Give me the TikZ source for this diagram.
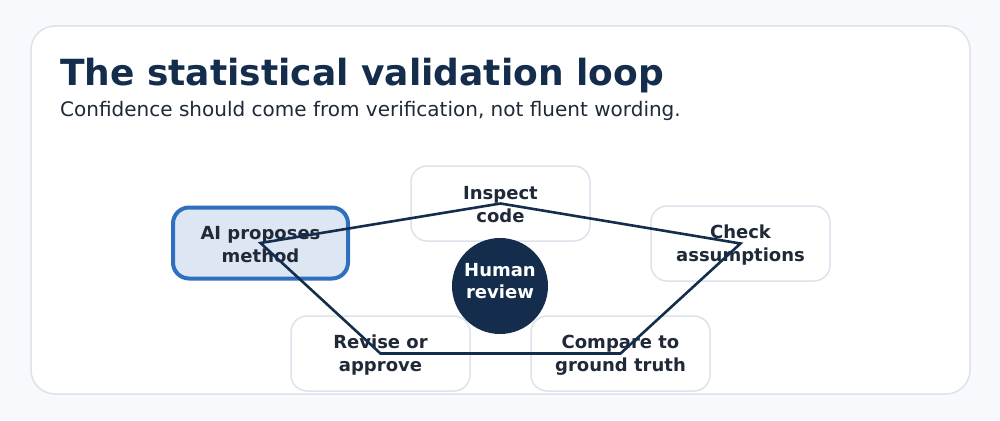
\documentclass[tikz,border=0pt]{standalone}
\usepackage{fontspec}
\setmainfont{DejaVu Sans}
\definecolor{pagebg}{HTML}{F7F9FC}
\definecolor{cardline}{HTML}{DCE3EC}
\definecolor{navy}{HTML}{142D4C}
\definecolor{inktext}{HTML}{1F2937}
\definecolor{aifill}{HTML}{DDE7F4}
\definecolor{ailine}{HTML}{2F6FBF}
\begin{document}
\begin{tikzpicture}[x=1pt,y=-1pt,
  stepbox/.style={draw=cardline,line width=1.5pt,fill=white,rounded corners=16pt,
    minimum width=179pt,minimum height=75pt,inner sep=0pt},
  aibox/.style={stepbox,draw=ailine,fill=aifill,line width=4pt,minimum width=175pt,minimum height=71pt},
  steptext/.style={align=center,text=inktext,inner sep=0pt,
    font=\fontsize{18}{23}\selectfont\bfseries},
  hub/.style={circle,fill=navy,minimum size=96pt,inner sep=0pt},
  hubtext/.style={text=white,align=center,inner sep=0pt,
    font=\fontsize{18}{22}\selectfont\bfseries},
  loopline/.style={draw=navy,line width=2.6pt,line join=miter}]
\useasboundingbox (0,0) rectangle (1000,420);
\fill[pagebg] (0,0) rectangle (1000,420);
\draw[cardline,line width=1.5pt,fill=white,rounded corners=24pt] (31,26) rectangle (970,394);
\node[anchor=base west,text=navy,font=\fontsize{36}{40}\selectfont\bfseries,inner sep=0pt] (title) at (60,85) {The statistical validation loop};
\node[anchor=base west,text=inktext,font=\fontsize{20}{24}\selectfont,inner sep=0pt] (sub) at (60,116.5) {Confidence should come from verification, not fluent wording.};
\node[stepbox] (inspect) at (500.5,203.5) {};
\node[aibox] (ai) at (260.5,243) {};
\node[stepbox] (check) at (740.5,243.5) {};
\node[stepbox] (revise) at (380.5,353.5) {};
\node[stepbox] (compare) at (620.5,353.5) {};
\node[steptext] (inspectt) at (500.5,205) {Inspect\\code};
\node[steptext] (ait) at (260.5,245) {AI proposes\\method};
\node[steptext] (checkt) at (740.5,245.5) {Check\\assumptions};
\node[steptext] (reviset) at (380.5,355.5) {Revise or\\approve};
\node[steptext] (comparet) at (620.5,355.5) {Compare to\\ground truth};
\node[hub] (hub) at (500,286) {};
\node[hubtext] (hubt) at (500,281) {Human\\review};
\draw[loopline] (ai.center) -- (inspect.center) -- (check.center) -- (compare.center) -- (revise.center) -- cycle;
\end{tikzpicture}
\end{document}
